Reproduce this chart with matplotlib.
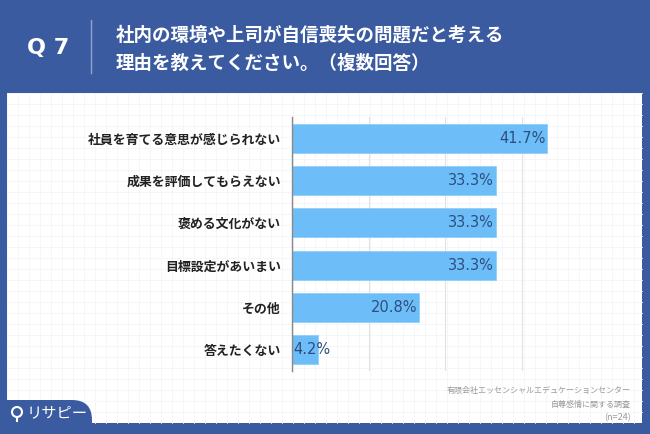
import matplotlib.pyplot as plt
from matplotlib.patches import Rectangle, FancyBboxPatch, Circle

plt.rcParams['font.family'] = ['Noto Sans CJK JP', 'DejaVu Sans']

# データ
labels = ['社員を育てる意思が感じられない', '成果を評価してもらえない', '褒める文化がない',
          '目標設定があいまい', 'その他', '答えたくない']
values = [41.7, 33.3, 33.3, 33.3, 20.8, 4.2]
title_lines = ['社内の環境や上司が自信喪失の問題だと考える', '理由を教えてください。（複数回答）']
source_lines = ['有限会社エッセンシャルエデュケーションセンター', '自尊感情に関する調査', '(n=24)']

BLUE = '#3B5BA1'
BAR = '#6DBEF8'
VAL = '#2D4E7E'

fig = plt.figure(figsize=(6.5, 4.34), dpi=100)
fig.patch.set_facecolor(BLUE)

# 背景（ピクセル座標）
bg = fig.add_axes([0, 0, 1, 1])
bg.set_xlim(0, 650)
bg.set_ylim(434, 0)
bg.axis('off')
bg.add_patch(Rectangle((7, 93), 635, 330, facecolor='white', edgecolor='none'))
# 方眼
x = 7
while x < 642:
    bg.plot([x, x], [93, 423], color='#F5F5F7', lw=0.6, zorder=1)
    x += 11
y = 93
while y < 423:
    bg.plot([7, 642], [y, y], color='#F5F5F7', lw=0.6, zorder=1)
    y += 11

# ヘッダー
bg.text(48, 48, 'Q 7', color='white', fontsize=16, fontweight='bold',
        ha='center', va='center', family=['DejaVu Sans'])
bg.plot([91, 91], [20, 73], color='#8FA3CC', lw=1)
bg.text(116, 35, title_lines[0], color='white', fontsize=13.3, fontweight='bold', va='center')
bg.text(116, 63, title_lines[1], color='white', fontsize=13.3, fontweight='bold', va='center')

# 出典
for i, s in enumerate(source_lines):
    bg.text(631, 391 + i * 13.5, s, color='#9A9A9A', fontsize=6.5 if i == 2 else 5.8,
            ha='right', va='center')

# ロゴ
bg.add_patch(FancyBboxPatch((-20, 400), 112, 60, boxstyle='round,pad=0,rounding_size=20',
                            facecolor=BLUE, edgecolor='none', zorder=3))
bg.add_patch(Circle((17, 412), 5, facecolor='none', edgecolor='white', lw=1.5, zorder=4))
bg.plot([17, 17], [417, 421], color='white', lw=1.5, zorder=4)
bg.text(27, 413, 'リサピー', color='white', fontsize=11, va='center', zorder=4)

# グラフ
ax = fig.add_axes([292 / 650, 1 - 371 / 434, 306 / 650, 254 / 434])
ax.patch.set_alpha(0)
ypos = list(range(len(labels)))
ax.barh(ypos, values, height=0.69, color=BAR, edgecolor='#8ED0FA', lw=0.6, zorder=3)
ax.set_xlim(0, 50)
ax.set_ylim(len(labels) - 0.5, -0.5)
ax.set_xticks([12.5, 25, 37.5, 50])
ax.grid(axis='x', color='#E2E2E2', lw=0.8, zorder=0)
ax.tick_params(length=0, labelbottom=False)
ax.set_yticks(ypos)
ax.set_yticklabels(labels, fontsize=9.3, fontweight='bold', color='#222222')
ax.tick_params(axis='y', pad=8)
for s in ['top', 'right', 'bottom']:
    ax.spines[s].set_visible(False)
ax.spines['left'].set_color('#888888')
ax.spines['left'].set_linewidth(1)
ax.spines['left'].set_zorder(4)

for yv, v in zip(ypos, values):
    txt = f'{v}%'
    if v > 10:
        ax.text(v - 0.3, yv, txt, ha='right', va='center', color=VAL, fontsize=10.5, zorder=5,
                fontweight='medium', family=['DejaVu Sans'])
    else:
        ax.text(0.2, yv, txt, ha='left', va='center', color=VAL, fontsize=10.5, zorder=5,
                fontweight='medium', family=['DejaVu Sans'])

fig.savefig('out.png', dpi=100, facecolor=BLUE)
